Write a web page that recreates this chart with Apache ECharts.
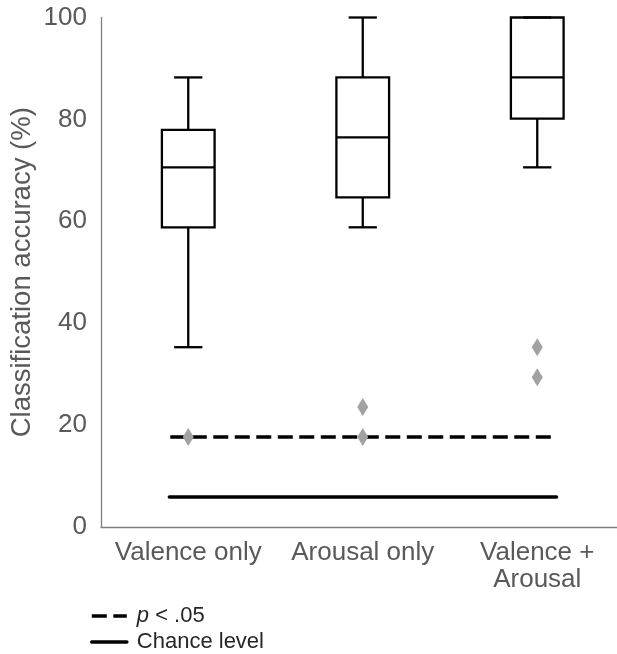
<!DOCTYPE html>
<html><head><meta charset="utf-8">
<script src="https://cdn.jsdelivr.net/npm/echarts@6/dist/echarts.min.js"></script>
<style>html,body{margin:0;padding:0;background:#fff}#c{width:617px;height:654px}</style>
</head><body><div id="c"></div>
<script>
// ---- data ----
const categories = ['Valence only', 'Arousal only', 'Valence +\nArousal'];
const whiskerLow  = [35.29, 58.82, 70.59];
const q1          = [58.82, 64.71, 80.15];
const median      = [70.59, 76.47, 88.24];
const q3          = [77.94, 88.24, 100];
const whiskerHigh = [88.24, 100, 100];
const outlierCategory = [0, 1, 1, 2, 2];
const outlierValue    = [17.65, 23.53, 17.65, 35.29, 29.41];
const significanceLevel = 17.65;
const chanceLevel = 5.88;
const yTicks = [0, 20, 40, 60, 80, 100];
const legendNames = ['p < .05', 'Chance level'];

// ---- chart ----
const FONT = "'Liberation Sans', Arial, sans-serif";
const boxData = categories.map((c, i) => [i, whiskerLow[i], q1[i], median[i], q3[i], whiskerHigh[i]]);
const outlierData = outlierCategory.map((c, i) => [c, outlierValue[i]]);

const chart = echarts.init(document.getElementById('c'), null, {renderer: 'canvas'});
chart.setOption({
  animation: false,
  backgroundColor: '#fff',
  textStyle: {fontFamily: FONT},
  grid: {left: 101, top: 17.5, bottom: 127, width: 523.5, containLabel: false, outerBoundsMode: 'none'},
  legend: {
    orient: 'vertical', left: 90, top: 605, padding: 0,
    itemWidth: 35, itemHeight: 14, itemGap: 4,
    data: legendNames,
    itemStyle: {opacity: 0},
    lineStyle: {width: 3.6},
    formatter: n => n === legendNames[0] ? '{i|p}{t| < .05}' : '{t|' + n + '}',
    textStyle: {
      fontFamily: FONT, fontSize: 22, color: '#262626', lineHeight: 22, padding: [0, 0, 0, 5],
      rich: {
        i: {fontFamily: FONT, fontSize: 22, fontStyle: 'italic', color: '#262626'},
        t: {fontFamily: FONT, fontSize: 22, color: '#262626'}
      }
    }
  },
  xAxis: [{
    type: 'category', data: categories, gridIndex: 0,
    axisLine: {show: true, onZero: false, lineStyle: {color: '#7f7f7f', width: 1.3}},
    axisTick: {show: false},
    axisLabel: {interval: 0, fontSize: 26, color: '#595959', margin: 12, lineHeight: 27, fontFamily: FONT},
    splitLine: {show: false}
  }, {
    type: 'value', gridIndex: 0, min: -0.5, max: 2.5, show: false
  }],
  yAxis: {
    type: 'value', min: yTicks[0], max: yTicks[yTicks.length - 1], interval: yTicks[1] - yTicks[0],
    name: 'Classification accuracy (%)', nameLocation: 'middle', nameGap: 65, nameMoveOverlap: false,
    nameTextStyle: {fontSize: 27.5, color: '#595959', fontFamily: FONT},
    axisLine: {show: true, onZero: false, lineStyle: {color: '#7f7f7f', width: 1.3}},
    axisTick: {show: false},
    splitLine: {show: false},
    axisLabel: {fontSize: 26, color: '#595959', margin: 14, fontFamily: FONT}
  },
  series: [
    {
      type: 'custom', xAxisIndex: 0, yAxisIndex: 0, z: 3,
      data: boxData,
      encode: {x: 0, y: [1, 2, 3, 4, 5]},
      renderItem: function (params, api) {
        const i = api.value(0);
        const low = api.coord([i, api.value(1)]);
        const b1 = api.coord([i, api.value(2)]);
        const med = api.coord([i, api.value(3)]);
        const b3 = api.coord([i, api.value(4)]);
        const high = api.coord([i, api.value(5)]);
        const band = api.size([1, 0])[0];
        const hw = band * 0.151, cw = band * 0.081;
        const x = low[0];
        const st = {stroke: '#000', lineWidth: 2.3, fill: null};
        return {type: 'group', children: [
          {type: 'line', shape: {x1: x, y1: high[1], x2: x, y2: b3[1]}, style: st},
          {type: 'line', shape: {x1: x, y1: b1[1], x2: x, y2: low[1]}, style: st},
          {type: 'line', shape: {x1: x - cw, y1: high[1], x2: x + cw, y2: high[1]}, style: st},
          {type: 'line', shape: {x1: x - cw, y1: low[1], x2: x + cw, y2: low[1]}, style: st},
          {type: 'rect', shape: {x: x - hw, y: b3[1], width: 2 * hw, height: b1[1] - b3[1]}, style: {stroke: '#000', lineWidth: 2.3, fill: 'rgba(0,0,0,0)'}},
          {type: 'line', shape: {x1: x - hw, y1: med[1], x2: x + hw, y2: med[1]}, style: st}
        ]};
      }
    },
    {
      name: legendNames[0], type: 'line', xAxisIndex: 1, yAxisIndex: 0, z: 2,
      symbol: 'none', silent: true,
      data: [[-0.103, significanceLevel], [2.103, significanceLevel]],
      lineStyle: {color: '#000', width: 3.4, type: [15, 6.5], cap: 'butt'},
      itemStyle: {color: '#000'}
    },
    {
      name: legendNames[1], type: 'line', xAxisIndex: 1, yAxisIndex: 0, z: 2,
      symbol: 'none', silent: true,
      data: [[-0.108, chanceLevel], [2.11, chanceLevel]],
      lineStyle: {color: '#000', width: 3.6, type: 'solid', cap: 'round'},
      itemStyle: {color: '#000'}
    },
    {
      type: 'scatter', xAxisIndex: 0, yAxisIndex: 0, z: 5,
      symbol: 'diamond', symbolSize: [11, 18],
      itemStyle: {color: '#a2a2a2', opacity: 1},
      data: outlierData
    }
  ]
});
</script>
</body></html>
